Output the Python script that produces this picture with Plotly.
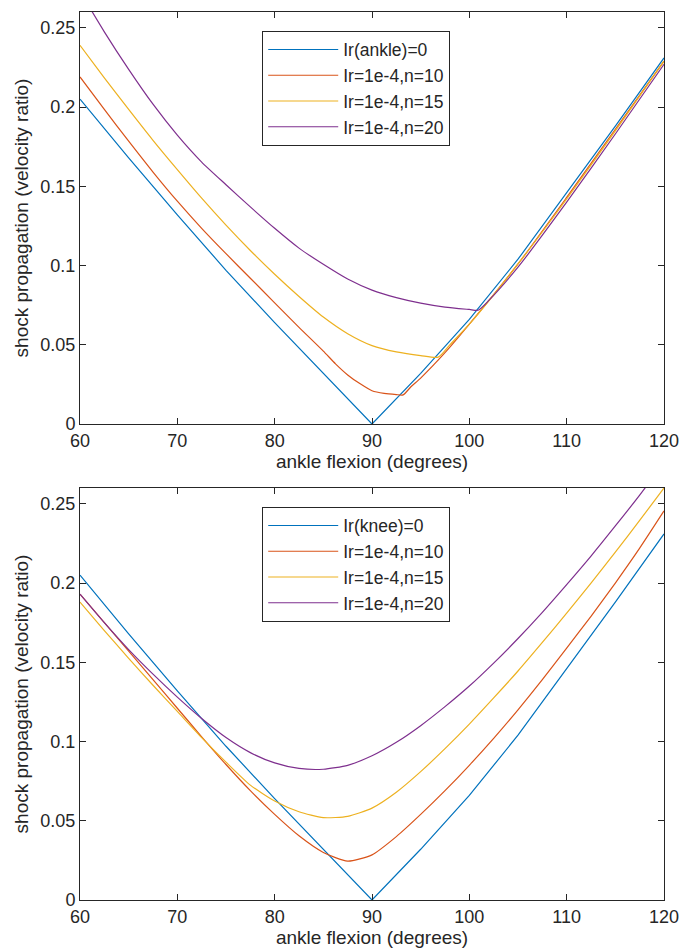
import plotly.graph_objects as go
from plotly.subplots import make_subplots

# colours (MATLAB default order)
cols = ["#0072BD", "#D95319", "#EDB120", "#7E2F8E"]

# ---- top panel: ankle ----
names_top = ["Ir(ankle)=0", "Ir=1e-4,n=10", "Ir=1e-4,n=15", "Ir=1e-4,n=20"]

x_base = [60, 65, 70, 75, 80, 85, 90, 95, 100, 105, 110, 115, 120]
y_base = [0.205, 0.168, 0.132, 0.097, 0.064, 0.032, 0.0, 0.032, 0.066, 0.104, 0.146, 0.188, 0.231]

x_a10 = [60, 62.5, 65, 67.5, 70, 72.5, 75, 77.5, 80, 82.5, 85, 86.25, 87.5, 88.75, 90, 91.25,
         92.5, 93.2, 94, 95, 97.5, 100, 105, 110, 115, 120]
y_a10 = [0.219, 0.1985, 0.1785, 0.159, 0.1406, 0.1235, 0.1075, 0.092, 0.0765, 0.061, 0.046, 0.038,
         0.031, 0.0255, 0.021, 0.0193, 0.0186, 0.0184, 0.0235, 0.029, 0.045, 0.063, 0.101, 0.143,
         0.186, 0.229]

x_a15 = [60, 62.5, 65, 67.5, 70, 72.5, 75, 77.5, 80, 82.5, 85, 87.5, 90, 92.5, 95, 96.8,
         98, 100, 105, 110, 115, 120]
y_a15 = [0.239, 0.2185, 0.1985, 0.179, 0.1605, 0.1425, 0.1255, 0.1095, 0.0945, 0.0805, 0.0675,
         0.057, 0.0495, 0.0455, 0.0432, 0.0422, 0.050, 0.063, 0.101, 0.142, 0.185, 0.229]

x_a20 = [60, 62.5, 65, 67.5, 70, 72.5, 75, 77.5, 80, 82.5, 85, 87.5, 90, 92.5, 95, 97.5,
         100, 100.9, 102, 105, 110, 115, 120]
y_a20 = [0.273, 0.2475, 0.2238, 0.2018, 0.1823, 0.1653, 0.151, 0.137, 0.1235, 0.111, 0.1008,
         0.0915, 0.0845, 0.0798, 0.0763, 0.0738, 0.0723, 0.0718, 0.078, 0.099, 0.140, 0.183, 0.227]

# ---- bottom panel: knee ----
names_bot = ["Ir(knee)=0", "Ir=1e-4,n=10", "Ir=1e-4,n=15", "Ir=1e-4,n=20"]

x_knee = [60, 62.5, 65, 67.5, 70, 72.5, 75, 77.5, 80, 82.5, 85, 87.5, 90, 92.5, 95, 97.5,
          100, 102.5, 105, 107.5, 110, 112.5, 115, 117.5, 120]
y_k10 = [0.193, 0.175, 0.157, 0.139, 0.121, 0.103, 0.0855, 0.069, 0.054, 0.0405, 0.030, 0.0245,
         0.0285, 0.040, 0.054, 0.069, 0.085, 0.102, 0.120, 0.139, 0.159, 0.179, 0.200, 0.222, 0.2455]
y_k15 = [0.188, 0.170, 0.1525, 0.1355, 0.119, 0.1025, 0.087, 0.0725, 0.0625, 0.0557, 0.052,
         0.0528, 0.058, 0.068, 0.081, 0.0955, 0.111, 0.1275, 0.1445, 0.1625, 0.181, 0.200,
         0.2195, 0.2395, 0.260]
y_k20 = [0.193, 0.175, 0.158, 0.1425, 0.128, 0.1145, 0.1025, 0.093, 0.0865, 0.083, 0.0825,
         0.085, 0.091, 0.0995, 0.110, 0.122, 0.135, 0.1495, 0.165, 0.1815, 0.199, 0.217, 0.236,
         0.2555, 0.276]

xt = [60, 70, 80, 90, 100, 110, 120]
yt = [0, 0.05, 0.1, 0.15, 0.2, 0.25]
yt_txt = ["0", "0.05", "0.1", "0.15", "0.2", "0.25"]

fig = make_subplots(rows=2, cols=1, vertical_spacing=0.072)

top = [(x_base, y_base), (x_a10, y_a10), (x_a15, y_a15), (x_a20, y_a20)]
bot = [(x_base, y_base), (x_knee, y_k10), (x_knee, y_k15), (x_knee, y_k20)]

def line(i):
    # baseline is a V, keep it straight; the rest are smooth curves
    if i == 0:
        return dict(color=cols[i], width=1.2)
    return dict(color=cols[i], width=1.2, shape="spline", smoothing=0.6)

for i, (xs, ys) in enumerate(top):
    fig.add_trace(go.Scatter(x=xs, y=ys, mode="lines", name=names_top[i],
                             line=line(i), legend="legend"), row=1, col=1)
for i, (xs, ys) in enumerate(bot):
    fig.add_trace(go.Scatter(x=xs, y=ys, mode="lines", name=names_bot[i],
                             line=line(i), legend="legend2"), row=2, col=1)

axcol = "#262626"
fam = "Liberation Sans, Arial, sans-serif"
tickfont = dict(family=fam, size=18, color=axcol)
titlefont = dict(family=fam, size=19, color=axcol)

for r in (1, 2):
    fig.update_xaxes(range=[60, 120], tickvals=xt, ticks="inside", ticklen=6, tickcolor=axcol,
                     showline=True, linecolor=axcol, linewidth=1, mirror="ticks",
                     showgrid=False, zeroline=False, tickfont=tickfont, automargin=False,
                     title=dict(text="ankle flexion (degrees)", font=titlefont, standoff=2),
                     row=r, col=1)
    fig.update_yaxes(range=[0, 0.26], tickvals=yt, ticktext=yt_txt, ticks="inside", ticklen=6,
                     tickcolor=axcol, showline=True, linecolor=axcol, linewidth=1, mirror="ticks",
                     showgrid=False, zeroline=False, tickfont=tickfont, automargin=False,
                     title=dict(text="shock propagation (velocity ratio)", font=titlefont, standoff=6),
                     row=r, col=1)

leg = dict(bgcolor="white", bordercolor=axcol, borderwidth=1,
           font=dict(family=fam, size=17.5, color=axcol), itemwidth=70,
           xanchor="left", yanchor="top", tracegroupgap=0)

# page has an 8px body margin, so the figure is 8px smaller and shifted
fig.update_layout(
    width=682, height=942,
    margin=dict(l=72, r=26, t=4, b=50),
    plot_bgcolor="white", paper_bgcolor="white",
    legend=dict(leg, x=0.312, y=0.979),
    legend2=dict(leg, x=0.312, y=0.443),
    showlegend=True,
)

fig.write_html("out.html")
